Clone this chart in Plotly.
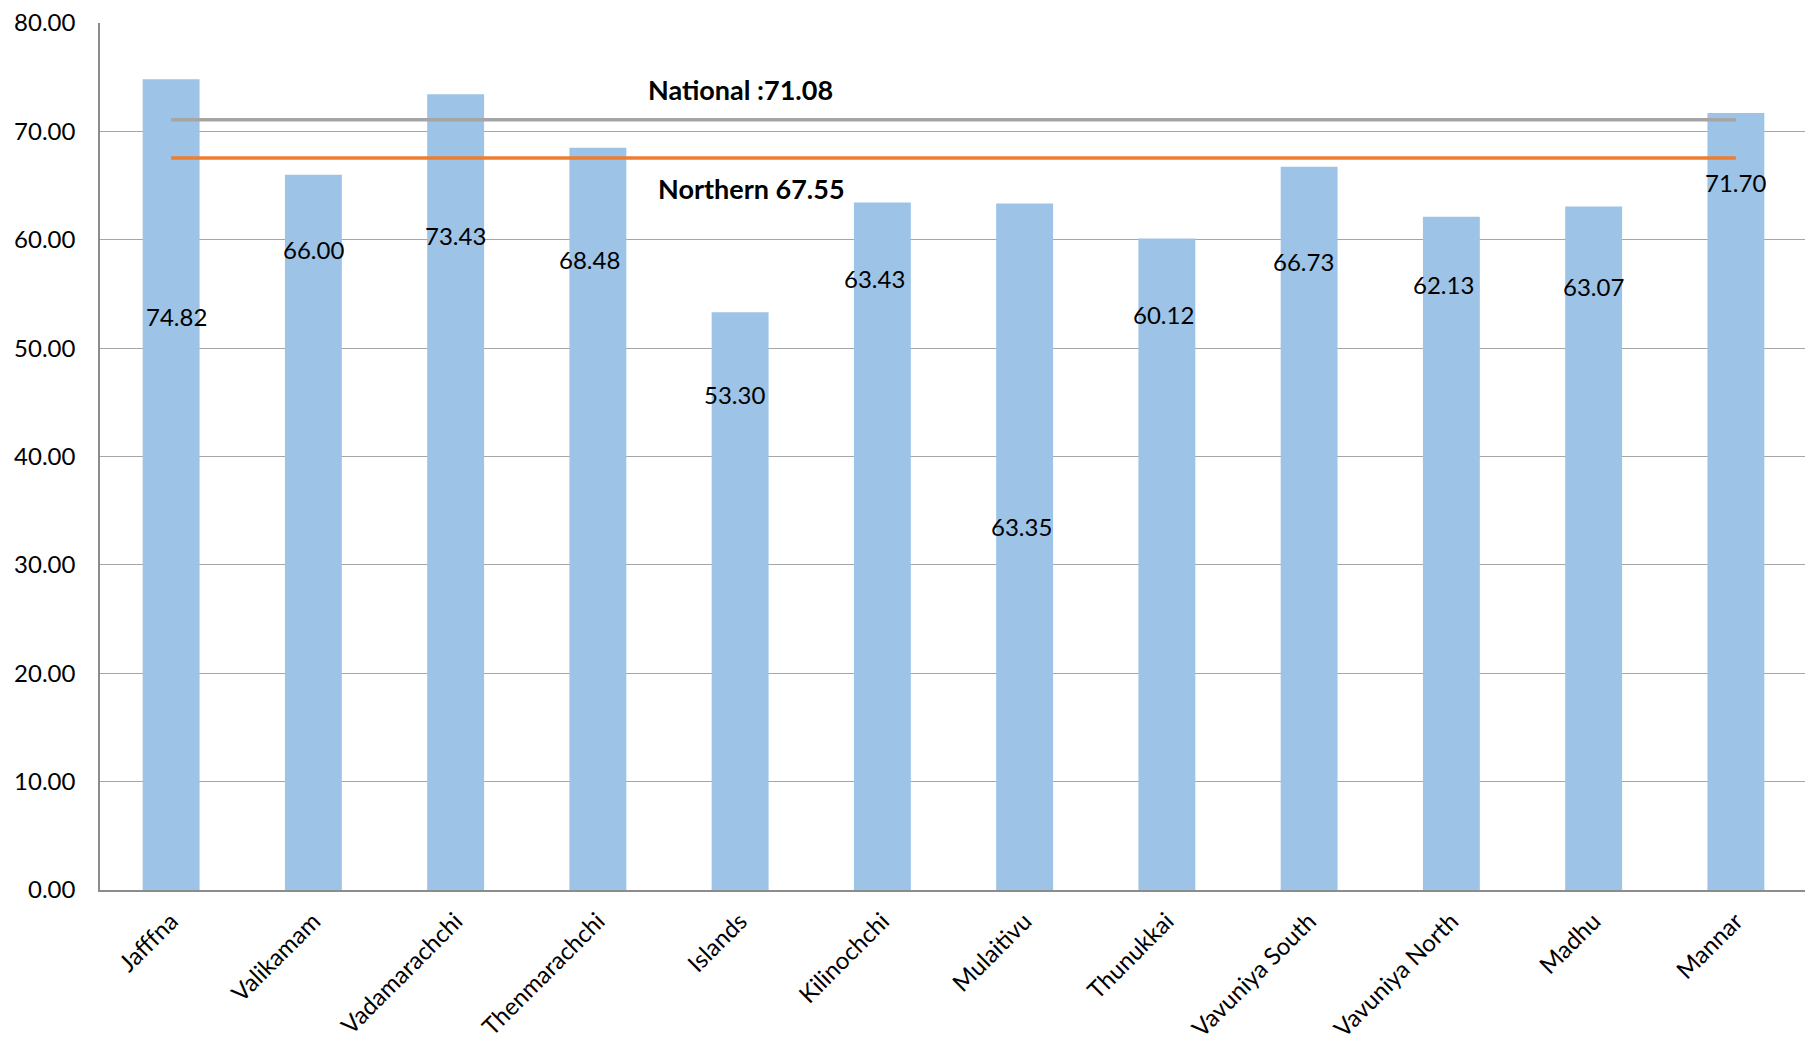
import plotly.graph_objects as go

categories = ["Jafffna", "Valikamam", "Vadamarachchi", "Thenmarachchi", "Islands",
              "Kilinochchi", "Mulaitivu", "Thunukkai", "Vavuniya South",
              "Vavuniya North", "Madhu", "Mannar"]
values = [74.82, 66.00, 73.43, 68.48, 53.30, 63.43, 63.35, 60.12, 66.73, 62.13, 63.07, 71.70]
national = 71.08
northern = 67.55
y_ticks = [0, 10, 20, 30, 40, 50, 60, 70, 80]

# label placements (as positioned in the original chart)
label_y = [52.9, 59.07, 60.35, 58.2, 45.7, 56.4, 33.5, 53.1, 58.0, 55.9, 55.7, 65.3]
label_dx = [5, 0, 0, -7, -5, -7, -3, -3, -5, -7, 0, 0]

FONT = "Lato"
fig = go.Figure()
fig.add_trace(go.Bar(x=categories, y=values, marker=dict(color="#9DC3E6", line=dict(width=0)),
                     width=0.4, showlegend=False, hoverinfo="x+y"))
fig.add_trace(go.Scatter(x=categories, y=[national] * len(categories), mode="lines",
                         line=dict(color="#A5A5A5", width=3.5), showlegend=False))
fig.add_trace(go.Scatter(x=categories, y=[northern] * len(categories), mode="lines",
                         line=dict(color="#ED7D31", width=3.5), showlegend=False))

for i, (v, ly, dx) in enumerate(zip(values, label_y, label_dx)):
    fig.add_annotation(x=i, y=ly, text=f"{v:.2f}", showarrow=False, xshift=dx * 1.156,
                       font=dict(family=FONT, size=24, color="#000000"))

fig.add_annotation(x=4.0, y=73.9, text=f"<b>National :{national:.2f}</b>", showarrow=False,
                   font=dict(family=FONT, size=27, color="#000000"))
fig.add_annotation(x=4.08, y=64.7, text=f"<b>Northern {northern:.2f}</b>", showarrow=False,
                   font=dict(family=FONT, size=27, color="#000000"))

fig.update_layout(
    width=1805, height=1036,
    margin=dict(l=92, r=6, t=15, b=154, autoexpand=False),
    plot_bgcolor="white", paper_bgcolor="white",
    bargap=0.6,
    font=dict(family=FONT, size=24, color="#000000"),
)
fig.update_xaxes(showline=True, linecolor="#8C8C8C", linewidth=1.5, showgrid=False,
                 tickangle=-45, ticks="", ticklabelstandoff=6, automargin=False,
                 ticklabeloverflow="allow",
                 tickfont=dict(family=FONT, size=24), range=[-0.5, 11.5])
fig.update_yaxes(range=[0, 80], tickvals=y_ticks, ticktext=[f"{t:.2f}" for t in y_ticks],
                 showline=True, linecolor="#8C8C8C", linewidth=1.5, automargin=False,
                 ticklabeloverflow="allow",
                 showgrid=True, gridcolor="#A6A6A6", gridwidth=1.2, zeroline=False,
                 ticks="", ticklabelstandoff=18, tickfont=dict(family=FONT, size=24))

fig.write_html("out.html")
